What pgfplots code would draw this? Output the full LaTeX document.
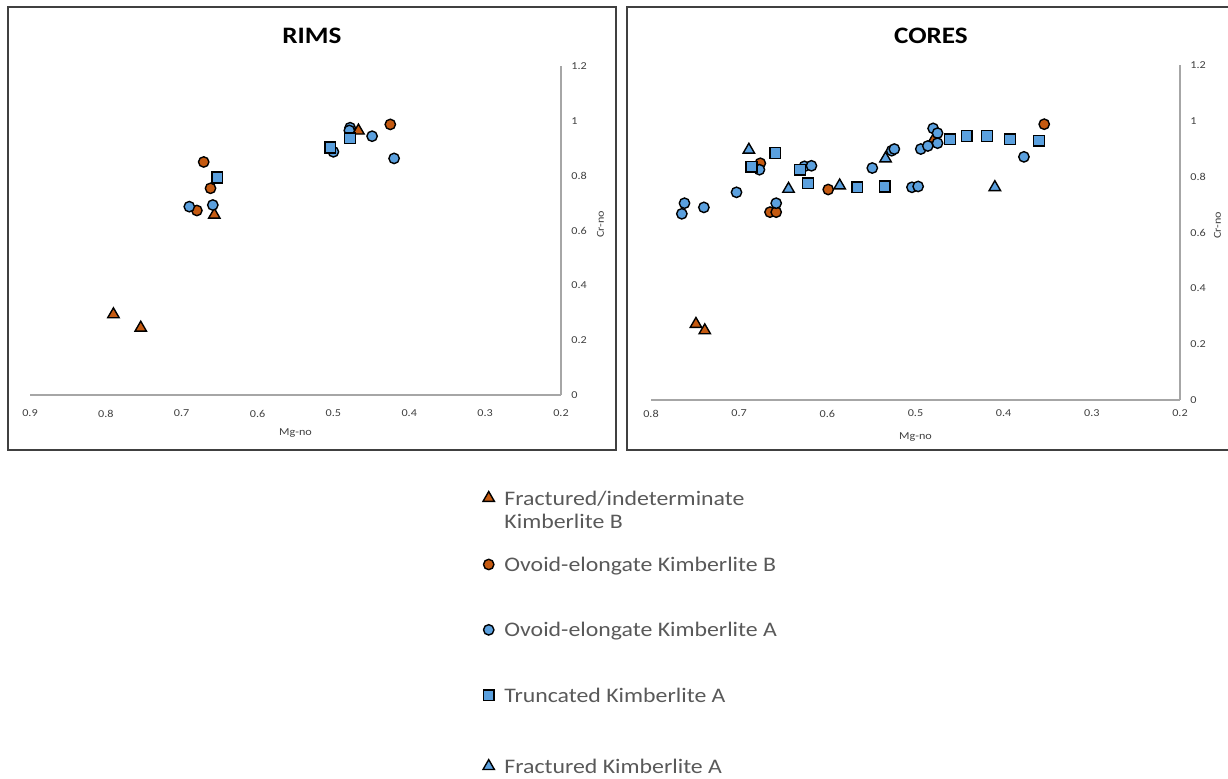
\documentclass[border=0pt]{standalone}
\usepackage{pgfplots}
\pgfplotsset{compat=1.18}
\usepackage{fontspec}
\setmainfont{Carlito}[FakeStretch=1.15]

\definecolor{kbOrange}{RGB}{197,90,17}
\definecolor{kaBlue}{RGB}{91,160,222}
\definecolor{axisgray}{RGB}{166,166,166}
\definecolor{labelgray}{RGB}{64,64,64}
\definecolor{legendgray}{RGB}{89,89,89}
\definecolor{framegray}{RGB}{64,64,64}

\pgfplotsset{
  panel/.style={
    scale only axis,
    anchor=south west,
    x dir=reverse,
    axis x line*=bottom,
    axis y line*=right,
    axis line style={draw=axisgray, line width=0.6pt},
    ymin=0, ymax=1.2,
    ytick={0,0.2,0.4,0.6,0.8,1,1.2},
    major tick length=0pt,
    tick style={draw=none},
    /pgf/number format/assume math mode=true,
    tick label style={font=\fontsize{5.3pt}{6pt}\selectfont, text=labelgray, inner sep=0pt},
    yticklabel style={anchor=west, xshift=5pt},
    every axis x label/.style={at={(axis description cs:0.5,0)}, anchor=base,
      font=\fontsize{5.3pt}{6pt}\selectfont, text=labelgray, inner sep=0pt},
    every axis y label/.style={at={(axis description cs:1,0.5)}, anchor=base, rotate=90,
      font=\fontsize{5.3pt}{6pt}\selectfont, text=labelgray, inner sep=0pt},
    xlabel={Mg-no}, ylabel={Cr-no},
    clip=false,
  },
  fracB/.style={only marks, mark=triangle*, mark size=3.3pt,
    mark options={draw=black, fill=kbOrange, line width=0.7pt}},
  ovB/.style={only marks, mark=*, mark size=2.6pt,
    mark options={draw=black, fill=kbOrange, line width=0.7pt}},
  ovA/.style={only marks, mark=*, mark size=2.6pt,
    mark options={draw=black, fill=kaBlue, line width=0.7pt}},
  trA/.style={only marks, mark=square*, mark size=2.7pt,
    mark options={draw=black, fill=kaBlue, line width=0.7pt}},
  frA/.style={only marks, mark=triangle*, mark size=3.3pt,
    mark options={draw=black, fill=kaBlue, line width=0.7pt}},
}

\begin{document}
\begin{tikzpicture}
\useasboundingbox (0pt,0pt) rectangle (614pt,-389pt);

% ---------------- RIMS ----------------
% (label shifts are given in the rotated frame of the y label)
\begin{axis}[panel,
  at={(15pt,-197.5pt)}, width=265.5pt, height=164.5pt,
  xmin=0.2, xmax=0.9,
  xtick={0.2,0.3,0.4,0.5,0.6,0.7,0.8,0.9},
  xticklabel style={yshift=-7.3pt},
  xlabel style={yshift=-20pt},
  ylabel style={yshift=-21.5pt, xshift=3.2pt},
]
\addplot[fracB] coordinates {(0.790,0.294) (0.754,0.245) (0.657,0.657) (0.467,0.964)};
\addplot[ovB] coordinates {(0.671,0.850) (0.662,0.754) (0.680,0.673) (0.425,0.987)};
\addplot[ovA] coordinates {(0.690,0.687) (0.659,0.693) (0.500,0.887) (0.478,0.975)
  (0.479,0.965) (0.449,0.944) (0.420,0.863)};
\addplot[trA] coordinates {(0.653,0.793) (0.504,0.903) (0.478,0.936)};
\end{axis}

% ---------------- CORES ----------------
\begin{axis}[panel,
  at={(325.5pt,-200pt)}, width=264.5pt, height=167.5pt,
  xmin=0.2, xmax=0.8,
  xtick={0.2,0.3,0.4,0.5,0.6,0.7,0.8},
  xticklabel style={yshift=-4.8pt},
  xlabel style={yshift=-19.5pt},
  ylabel style={yshift=-20.5pt, xshift=3.7pt},
]
\addplot[fracB] coordinates {(0.749,0.272) (0.739,0.249) (0.479,0.935)};
\addplot[ovB] coordinates {(0.676,0.848) (0.665,0.673) (0.658,0.673) (0.599,0.754) (0.354,0.988)};
\addplot[ovA] coordinates {(0.765,0.667) (0.762,0.705) (0.740,0.690) (0.703,0.744)
  (0.677,0.825) (0.658,0.705) (0.626,0.837) (0.618,0.839) (0.549,0.831)
  (0.527,0.893) (0.524,0.899) (0.504,0.762) (0.497,0.765) (0.494,0.899)
  (0.486,0.910) (0.480,0.973) (0.475,0.956) (0.475,0.920) (0.377,0.871)};
\addplot[trA] coordinates {(0.686,0.836) (0.659,0.885) (0.631,0.825) (0.622,0.776)
  (0.566,0.762) (0.535,0.765) (0.461,0.934) (0.442,0.946) (0.419,0.946)
  (0.393,0.934) (0.360,0.929)};
\addplot[frA] coordinates {(0.689,0.896) (0.644,0.756) (0.586,0.768) (0.534,0.865) (0.410,0.762)};
\end{axis}

% ---------------- shared legend ----------------
\begin{axis}[
  at={(0pt,-389pt)}, anchor=south west, scale only axis,
  width=614pt, height=389pt, hide axis,
  xmin=0, xmax=1228, ymin=0, ymax=778,
  legend image code/.code={\draw[#1] plot coordinates {(0pt,3.5pt)};},
  legend style={
    at={(axis cs:483,289)}, anchor=north west,
    draw=none, fill=none, inner sep=0pt, outer sep=0pt,
    row sep=0pt,
    nodes={inner sep=0pt, text depth=, text=legendgray},
    font=\fontsize{10.35pt}{11.5pt}\selectfont,
    cells={anchor=base west},
    /tikz/every odd column/.append style={column sep=5pt},
  },
]
\addlegendimage{fracB}
\addlegendentry{\begin{tabular}[t]{@{}l@{}}Fractured/indeterminate\\Kimberlite B\end{tabular}\rule[-26pt]{0pt}{10pt}}
\addlegendimage{ovB}
\addlegendentry{\rule[-25.5pt]{0pt}{10pt}Ovoid-elongate Kimberlite B}
\addlegendimage{ovA}
\addlegendentry{\rule[-25.5pt]{0pt}{10pt}Ovoid-elongate Kimberlite A}
\addlegendimage{trA}
\addlegendentry{\rule[-25.5pt]{0pt}{10pt}Truncated Kimberlite A}
\addlegendimage{frA}
\addlegendentry{\rule{0pt}{10pt}Fractured Kimberlite A}
\end{axis}

% panel frames and titles
\draw[framegray, line width=0.8pt] (4pt,-3.5pt) rectangle (308pt,-225pt);
\draw[framegray, line width=0.8pt] (313.5pt,-3.5pt) rectangle (616pt,-225pt);
\node[anchor=base, font=\bfseries\fontsize{11.8pt}{13pt}\selectfont] at (156pt,-21.5pt) {RIMS};
\node[anchor=base, font=\bfseries\fontsize{11.8pt}{13pt}\selectfont] at (465.5pt,-21.5pt) {CORES};
\end{tikzpicture}
\end{document}
